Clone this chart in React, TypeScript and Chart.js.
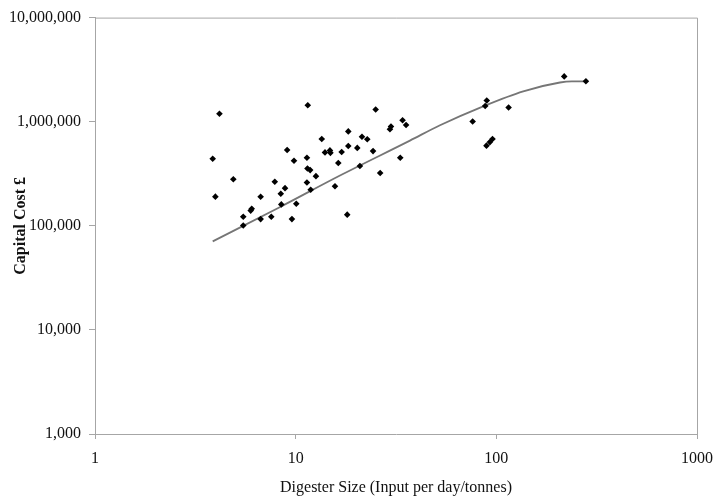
import React, { useEffect, useRef } from "react";
import { Chart, registerables } from "chart.js";

Chart.register(...registerables);

const sizeTonnes = [
  3.86, 3.98, 4.17, 4.89, 5.48, 5.48, 6.04, 5.97, 6.69, 6.69, 7.56, 7.87, 8.43, 8.85, 8.48,
  10.07, 9.58, 9.07, 9.81, 11.38, 11.45, 11.81, 11.38, 11.49, 11.88, 12.62, 13.49, 14.0,
  14.82, 14.9, 15.7, 16.31, 16.95, 18.29, 18.29, 18.07, 20.28, 20.9, 21.4, 22.74, 24.3,
  25.04, 26.37, 29.85, 29.5, 33.2, 34.1, 35.5, 76.2, 89.6, 88.0, 89.3, 92.9, 95.7, 115.1,
  217.9, 279.5,
];
const capitalCost = [
  440000, 190500, 1194000, 280000, 122000, 100500, 146000, 140000, 190000, 116000, 122000,
  265000, 203000, 230000, 160500, 163000, 116000, 534000, 422000, 451000, 355000, 343000,
  261000, 1439000, 222000, 300000, 681000, 507000, 530000, 502000, 240000, 401000, 511000,
  807000, 585000, 128000, 560000, 375000, 716000, 678000, 522000, 1309000, 321000, 899000,
  847000, 451000, 1033000, 929000, 1005000, 1600000, 1416000, 589000, 637000, 683000,
  1371000, 2723000, 2443000,
];
const trendX = [3.86, 8.28, 16.63, 37.1, 52.4, 86.0, 136.2, 207.5, 238.1, 279.5];
const trendY = [70800, 150000, 304000, 658000, 925000, 1406000, 1959000, 2380000, 2440000, 2443000];

const xTickValues = [1, 10, 100, 1000];
const yTickValues = [1000, 10000, 100000, 1000000, 10000000];

const FONT = "'Liberation Serif', 'Times New Roman', serif";

const boxPlugin = {
  id: "boxPlugin",
  afterDraw(chart: any) {
    const { ctx, chartArea } = chart;
    ctx.save();
    ctx.strokeStyle = "#a6a6a6";
    ctx.lineWidth = 1;
    ctx.beginPath();
    ctx.moveTo(chartArea.left, chartArea.top + 0.5);
    ctx.lineTo(chartArea.right + 0.5, chartArea.top + 0.5);
    ctx.lineTo(chartArea.right + 0.5, chartArea.bottom);
    ctx.stroke();
    ctx.restore();
  },
};

export default function App() {
  const ref = useRef<HTMLCanvasElement>(null);
  useEffect(() => {
    if (!ref.current) return;
    const points = sizeTonnes.map((x, i) => ({ x, y: capitalCost[i] }));
    const trend = trendX.map((x, i) => ({ x, y: trendY[i] }));
    const chart = new Chart(ref.current, {
      type: "scatter",
      data: {
        datasets: [
          {
            label: "Trend",
            data: trend,
            showLine: true,
            borderColor: "#767676",
            borderWidth: 1.8,
            pointRadius: 0,
            cubicInterpolationMode: "monotone",
            order: 2,
          } as any,
          {
            label: "Plants",
            data: points,
            pointStyle: "rectRot",
            pointRadius: 3.3,
            backgroundColor: "#000",
            borderColor: "#000",
            borderWidth: 0,
            order: 1,
          },
        ],
      },
      options: {
        animation: false,
        responsive: false,
        maintainAspectRatio: false,
        layout: { padding: { top: 16, right: 28, left: 0, bottom: 0 } },
        plugins: { legend: { display: false }, tooltip: { enabled: false } },
        scales: {
          x: {
            type: "logarithmic",
            min: 1,
            max: 1000,
            afterBuildTicks: (s: any) => {
              s.ticks = xTickValues.map((v) => ({ value: v }));
            },
            afterFit: (s: any) => {
              s.height = 65;
            },
            grid: { drawOnChartArea: false, drawTicks: true, tickLength: 5, color: "#a6a6a6" },
            border: { display: true, color: "#a6a6a6" },
            ticks: {
              autoSkip: false,
              maxRotation: 0,
              padding: 10,
              color: "#111",
              font: { family: FONT, size: 16 },
              callback: (v: any) => String(v),
            },
            title: {
              display: true,
              text: "Digester Size (Input per day/tonnes)",
              color: "#111",
              font: { family: FONT, size: 16 },
              padding: { top: 2, bottom: 2 },
            },
          },
          y: {
            type: "logarithmic",
            min: 1000,
            max: 10000000,
            afterBuildTicks: (s: any) => {
              s.ticks = yTickValues.map((v) => ({ value: v }));
            },
            afterFit: (s: any) => {
              s.width = 95;
            },
            grid: { drawOnChartArea: false, drawTicks: true, tickLength: 6, color: "#a6a6a6" },
            border: { display: true, color: "#a6a6a6" },
            ticks: {
              autoSkip: false,
              padding: 8,
              color: "#111",
              font: { family: FONT, size: 16 },
              callback: (v: any) => Number(v).toLocaleString("en-US"),
            },
            title: {
              display: true,
              text: "Capital Cost £",
              color: "#111",
              font: { family: FONT, size: 16, weight: "bold" },
              padding: { top: 11, bottom: 0 },
            },
          },
        },
      },
      plugins: [boxPlugin],
    });
    return () => chart.destroy();
  }, []);
  return (
    <div style={{ position: "fixed", left: 0, top: 0, width: 725, height: 499, background: "#fff" }}>
      <canvas ref={ref} width={725} height={499} style={{ width: 725, height: 499 }} />
    </div>
  );
}
